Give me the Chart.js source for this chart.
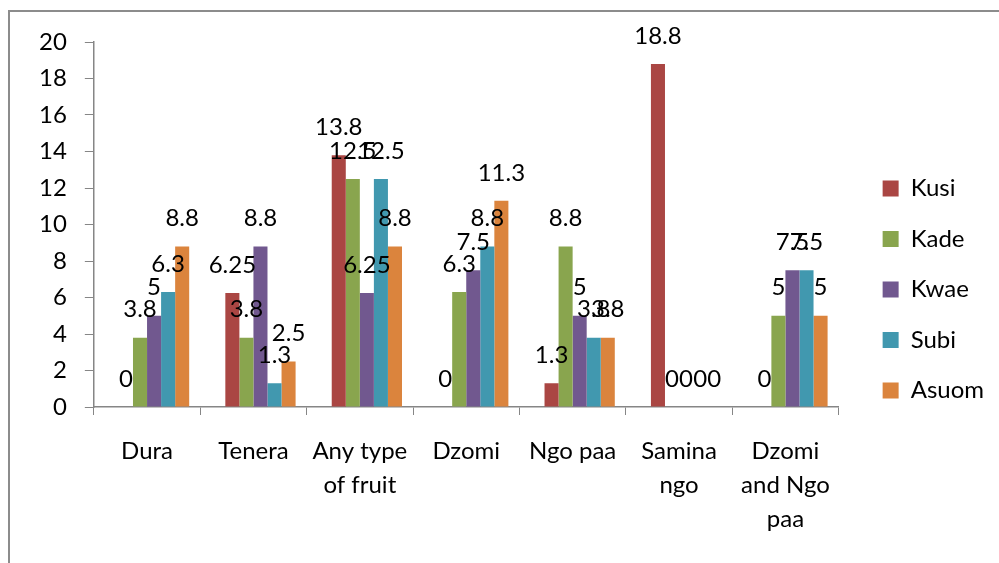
<!DOCTYPE html>
<html>
<head>
<meta charset="utf-8">
<script src="https://cdn.jsdelivr.net/npm/chart.js@4/dist/chart.umd.min.js"></script>
<style>
  html, body { margin: 0; padding: 0; background: #fff; }
  #wrap { position: relative; width: 999px; height: 563px; overflow: hidden; }
  #frame { position: absolute; left: 8px; top: 10px; width: 1000px; height: 600px; border-left: 2px solid #8c8c8c; border-top: 2px solid #8c8c8c; }
  #chart { position: absolute; left: 0; top: 0; }
</style>
</head>
<body>
<div id="wrap">
  <div id="frame"></div>
  <canvas id="chart" width="999" height="563"></canvas>
</div>
<script>
const categories = ['Dura', 'Tenera', ['Any type', 'of fruit'], 'Dzomi', 'Ngo paa', ['Samina', 'ngo'], ['Dzomi', 'and Ngo', 'paa']];
const kusi  = [0, 6.25, 13.8, 0, 1.3, 18.8, 0];
const kade  = [3.8, 3.8, 12.5, 6.3, 8.8, 0, 5];
const kwae  = [5, 8.8, 6.25, 7.5, 5, 0, 7.5];
const subi  = [6.3, 1.3, 12.5, 8.8, 3.8, 0, 7.5];
const asuom = [8.8, 2.5, 8.8, 11.3, 3.8, 0, 5];
const seriesNames = ['Kusi', 'Kade', 'Kwae', 'Subi', 'Asuom'];
const seriesColors = ['#AA4643', '#89A54E', '#71588F', '#4198AF', '#DB843D'];
const yTicks = [0, 2, 4, 6, 8, 10, 12, 14, 16, 18, 20];

const FONT = 'Lato, "Open Sans", sans-serif';
const axisColor = '#868686';

// empty leading slot: Excel groups sit half a bar to the right of the category centre
const datasets = [{ label: '', data: categories.map(() => null), backgroundColor: 'rgba(0,0,0,0)', spacer: true }];
[kusi, kade, kwae, subi, asuom].forEach(function(vals, i) {
    datasets.push({
        label: seriesNames[i],
        data: vals,
        backgroundColor: seriesColors[i],
        borderWidth: 0
    });
});

const valueLabels = {
    id: 'valueLabels',
    afterDatasetsDraw(chart) {
        const ctx = chart.ctx;
        ctx.save();
        ctx.font = '24px ' + FONT;
        ctx.fillStyle = '#000';
        ctx.textAlign = 'center';
        ctx.textBaseline = 'middle';
        chart.data.datasets.forEach(function(ds, di) {
            if (ds.spacer) return;
            chart.getDatasetMeta(di).data.forEach(function(bar, i) {
                ctx.fillText(String(ds.data[i]), bar.x, bar.y - 28);
            });
        });
        ctx.restore();
    }
};

new Chart(document.getElementById('chart'), {
    type: 'bar',
    data: { labels: categories, datasets: datasets },
    options: {
        responsive: false,
        animation: false,
        layout: { padding: { top: 42, bottom: 26, left: 21, right: 5 } },
        datasets: { bar: { categoryPercentage: 84 / 106, barPercentage: 1 } },
        plugins: {
            legend: {
                position: 'right',
                labels: {
                    font: { family: FONT, size: 24 },
                    color: '#000',
                    boxWidth: 16,
                    boxHeight: 16,
                    padding: 26.5,
                    filter: function(item, data) { return !data.datasets[item.datasetIndex].spacer; }
                }
            },
            tooltip: { enabled: false }
        },
        scales: {
            x: {
                grid: { drawOnChartArea: false, tickLength: 8, color: axisColor, offset: true },
                border: { color: axisColor, width: 1.5 },
                ticks: {
                    font: { family: FONT, size: 24, lineHeight: 1.42 },
                    color: '#000',
                    padding: 19,
                    maxRotation: 0,
                    autoSkip: false
                },
                afterFit: function(scale) { scale.height = 130; }
            },
            y: {
                min: 0,
                max: 20,
                afterBuildTicks: function(scale) { scale.ticks = yTicks.map(v => ({ value: v })); },
                grid: { drawOnChartArea: false, tickLength: 9, color: axisColor },
                border: { color: axisColor, width: 1.5 },
                ticks: {
                    font: { family: FONT, size: 24 },
                    color: '#000',
                    padding: 18
                }
            },
            spacer: {
                type: 'linear',
                position: 'right',
                display: true,
                grid: { display: false },
                border: { display: false },
                ticks: { display: false },
                afterFit: function(scale) { scale.width = 17.5; }
            }
        }
    },
    plugins: [valueLabels]
});
</script>
</body>
</html>
